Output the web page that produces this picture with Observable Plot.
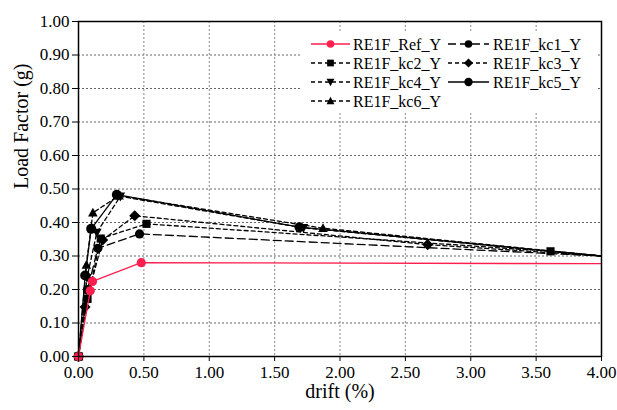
<!DOCTYPE html>
<html>
<head>
<meta charset="utf-8">
<script src="https://cdn.jsdelivr.net/npm/d3@7"></script>
<script src="https://cdn.jsdelivr.net/npm/@observablehq/plot@0.6"></script>
<style>
  html, body { margin: 0; padding: 0; background: #fff; }
  .figure { width: 617px; height: 410px; position: relative; }
</style>
</head>
<body>
<script>
// Load factor vs drift for the RE1F model, Y direction
const refDrift = [0, 0.09, 0.107, 0.48, 4.0];
const refLoad  = [0, 0.196, 0.224, 0.280, 0.277];

const kc1Drift = [0, 0.069, 0.148, 0.467, 4.0];
const kc1Load  = [0, 0.200, 0.323, 0.366, 0.300];

const kc2Drift = [0, 0.069, 0.170, 0.520, 3.61, 4.0];
const kc2Load  = [0, 0.172, 0.352, 0.396, 0.314, 0.300];

const kc3Drift = [0, 0.050, 0.185, 0.430, 2.67, 4.0];
const kc3Load  = [0, 0.148, 0.348, 0.420, 0.334, 0.300];

const kc4Drift = [0, 0.065, 0.140, 0.320, 1.72, 4.0];
const kc4Load  = [0, 0.235, 0.370, 0.478, 0.384, 0.300];

const kc5Drift = [0, 0.051, 0.097, 0.293, 1.69, 4.0];
const kc5Load  = [0, 0.242, 0.381, 0.483, 0.386, 0.300];

const kc6Drift = [0, 0.060, 0.110, 0.310, 1.87, 4.0];
const kc6Load  = [0, 0.273, 0.429, 0.480, 0.383, 0.300];

const xTicks = [0, 0.5, 1.0, 1.5, 2.0, 2.5, 3.0, 3.5, 4.0];
const yTicks = [0, 0.1, 0.2, 0.3, 0.4, 0.5, 0.6, 0.7, 0.8, 0.9, 1.0];

// marker shapes
const sym = {
  circle: { draw(c, s) { const r = Math.sqrt(s / Math.PI); c.moveTo(r, 0); c.arc(0, 0, r, 0, 2 * Math.PI); } },
  square: { draw(c, s) { const h = Math.sqrt(s) * 0.5; c.rect(-h, -h, 2 * h, 2 * h); } },
  diamond: { draw(c, s) { const h = Math.sqrt(s) * 0.68; c.moveTo(0, -h); c.lineTo(h, 0); c.lineTo(0, h); c.lineTo(-h, 0); c.closePath(); } },
  triUp: { draw(c, s) { const h = Math.sqrt(s) * 0.62; c.moveTo(0, -h); c.lineTo(h * 0.95, h * 0.75); c.lineTo(-h * 0.95, h * 0.75); c.closePath(); } },
  triDown: { draw(c, s) { const h = Math.sqrt(s) * 0.62; c.moveTo(0, h); c.lineTo(h * 0.95, -h * 0.75); c.lineTo(-h * 0.95, -h * 0.75); c.closePath(); } }
};

const RED = "#ff1f4f";
const series = [
  { name: "RE1F_Ref_Y", drift: refDrift, load: refLoad, color: RED, dash: null, symbol: sym.circle, r: 4.6 },
  { name: "RE1F_kc1_Y", drift: kc1Drift, load: kc1Load, color: "#000", dash: "8,4", symbol: sym.circle, r: 4.6 },
  { name: "RE1F_kc2_Y", drift: kc2Drift, load: kc2Load, color: "#000", dash: "4,3", symbol: sym.square, r: 4.6 },
  { name: "RE1F_kc3_Y", drift: kc3Drift, load: kc3Load, color: "#000", dash: "4,3", symbol: sym.diamond, r: 4.6 },
  { name: "RE1F_kc4_Y", drift: kc4Drift, load: kc4Load, color: "#000", dash: "4,3", symbol: sym.triDown, r: 4.6 },
  { name: "RE1F_kc5_Y", drift: kc5Drift, load: kc5Load, color: "#000", dash: null, symbol: sym.circle, r: 5 },
  { name: "RE1F_kc6_Y", drift: kc6Drift, load: kc6Load, color: "#000", dash: "4,3", symbol: sym.triUp, r: 4.6 }
];

const rowsOf = s => s.drift.map((x, i) => ({ x, y: s.load[i], last: i === s.drift.length - 1 }));

const marks = [
  Plot.gridY(yTicks, { stroke: "#666", strokeOpacity: 1, strokeDasharray: "2,2" }),
  Plot.gridX(xTicks, { stroke: "#888", strokeOpacity: 1, strokeDasharray: "2,2" })
];
// black series first, red reference on top
for (const s of [...series.slice(1), series[0]]) {
  const rows = rowsOf(s);
  marks.push(Plot.line(rows, { x: "x", y: "y", stroke: s.color, strokeWidth: 1.3, strokeDasharray: s.dash }));
  marks.push(Plot.dot(rows.filter(d => !d.last), { x: "x", y: "y", symbol: s.symbol, r: s.r, fill: s.color, stroke: "none" }));
}
marks.push(
  Plot.frame({ stroke: "#000", strokeWidth: 1.5 }),
  Plot.axisX(xTicks, { tickFormat: d3.format(".2f"), tickSize: 5, tickPadding: 4, label: null, fontSize: 17 }),
  Plot.axisY(yTicks, { tickFormat: d3.format(".2f"), tickSize: 6, tickPadding: 3, label: null, fontSize: 17 }),
  Plot.text(["drift (%)"], { frameAnchor: "bottom", dy: 41, fontSize: 20, fill: "#000" }),
  Plot.text(["Load Factor (g)"], { frameAnchor: "left", dx: -57, rotate: -90, fontSize: 20, fill: "#000" })
);

const svg = Plot.plot({
  width: 617,
  height: 408,
  marginLeft: 78,
  marginRight: 16,
  marginTop: 21,
  marginBottom: 52,
  style: { fontFamily: "Liberation Serif", fontSize: "17px", background: "#fff", color: "#000" },
  x: { domain: [0, 4] },
  y: { domain: [0, 1] },
  marks
});

// legend, two columns inside the plot area
const g = d3.select(svg).append("g").attr("font-size", 16).attr("text-anchor", "start");
g.append("rect").attr("x", 301).attr("y", 33).attr("width", 297).attr("height", 78).attr("fill", "#fff");
const cols = [{ x0: 311, x1: 350, tx: 353 }, { x0: 448, x1: 489, tx: 493 }];
const rowY = [44, 63, 82, 101];
series.forEach((s, i) => {
  const c = cols[i % 2], y = rowY[Math.floor(i / 2)];
  g.append("line").attr("x1", c.x0).attr("x2", c.x1).attr("y1", y).attr("y2", y)
    .attr("stroke", s.color).attr("stroke-width", 1.3).attr("stroke-dasharray", s.dash);
  const p = d3.path();
  s.symbol.draw(p, Math.PI * (s.r - 0.8) * (s.r - 0.8));
  g.append("path").attr("d", p.toString()).attr("transform", `translate(${(c.x0 + c.x1) / 2},${y})`).attr("fill", s.color);
  g.append("text").attr("x", c.tx).attr("y", y).attr("dy", "0.35em").attr("fill", "#000").text(s.name);
});

const figure = document.createElement("div");
figure.className = "figure";
figure.append(svg);
document.body.append(figure);
</script>
</body>
</html>
